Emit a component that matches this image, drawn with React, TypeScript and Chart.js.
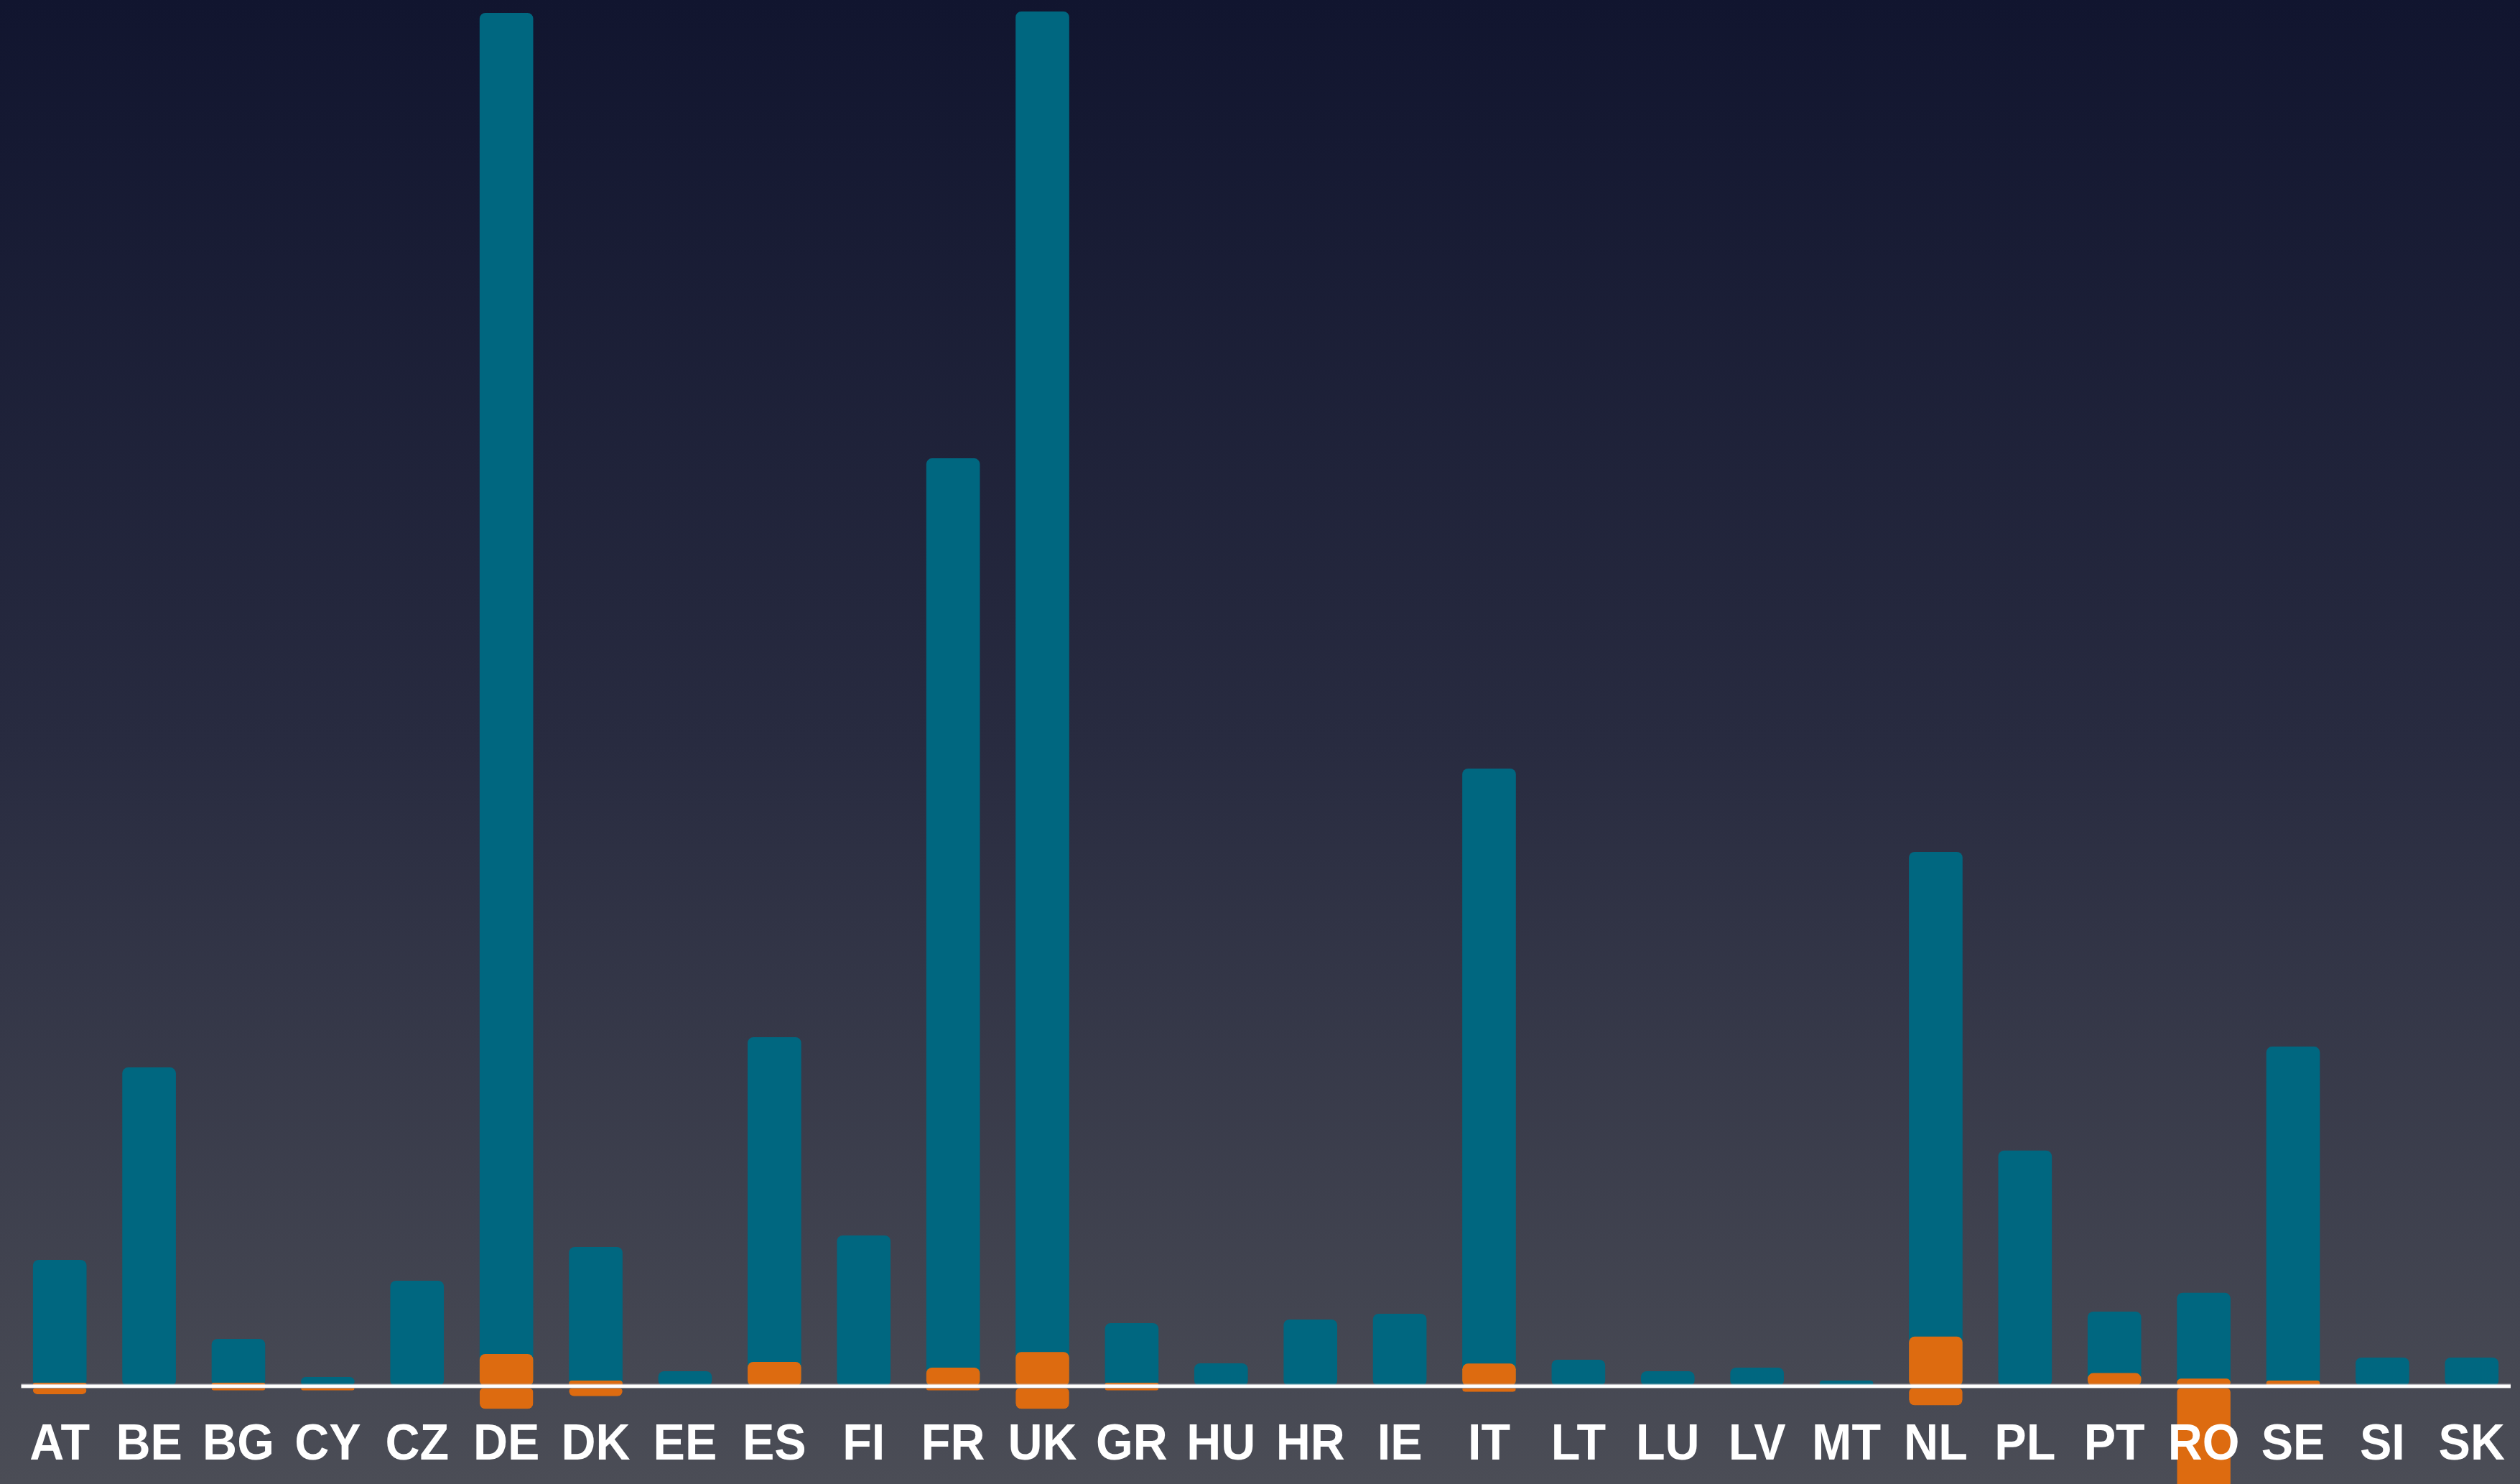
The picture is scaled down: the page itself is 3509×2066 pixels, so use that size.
import React, { useEffect, useRef } from 'react';
import { Chart, registerables } from 'chart.js';

Chart.register(...registerables);

const countries = ['AT', 'BE', 'BG', 'CY', 'CZ', 'DE', 'DK', 'EE', 'ES', 'FI', 'FR', 'UK', 'GR', 'HU', 'HR', 'IE', 'IT', 'LT', 'LU', 'LV', 'MT', 'NL', 'PL', 'PT', 'RO', 'SE', 'SI', 'SK'];

const blueValues = [9.12, 23.0, 3.42, 0.67, 7.62, 99.07, 10.05, 1.09, 25.18, 10.88, 66.94, 99.17, 4.56, 1.66, 4.82, 5.23, 44.56, 1.92, 1.09, 1.35, 0.41, 38.55, 17.0, 5.39, 6.74, 24.5, 2.07, 2.07];

const orangePositive = [0.26, 0, 0.26, 0, 0, 2.33, 0.41, 0.1, 1.76, 0, 1.35, 2.47, 0.26, 0, 0, 0.1, 1.64, 0, 0, 0, 0, 3.58, 0, 0.95, 0.55, 0.41, 0, 0];

const orangeNegative = [-0.57, 0, -0.3, -0.3, 0, -1.64, -0.71, 0, 0, 0, -0.3, -1.64, -0.3, 0, 0, 0, -0.4, 0, 0, 0, 0, -1.38, 0, 0, -8, 0, 0, 0];

const Y_MIN = -7.05;
const Y_MAX = 100;

const BLUE = '#006780';
const ORANGE = '#dd6b10';

const W = 3509;
const H = 2066;

const backgroundPlugin = {
  id: 'bgGradient',
  beforeDraw(chart: any) {
    const { ctx, width, height } = chart;
    const g = ctx.createLinearGradient(0, 0, 0, height);
    g.addColorStop(0, '#11152f');
    g.addColorStop(0.5, '#282b40');
    g.addColorStop(1, '#4b4d56');
    ctx.save();
    ctx.fillStyle = g;
    ctx.fillRect(0, 0, width, height);
    ctx.restore();
  },
};

const overlayPlugin = {
  id: 'zeroLineAndLabels',
  afterDatasetsDraw(chart: any) {
    const { ctx, chartArea } = chart;
    const xs = chart.scales.x;
    const ys = chart.scales.y;
    const y0 = ys.getPixelForValue(0);
    ctx.save();
    // zero line
    ctx.fillStyle = 'rgba(200,200,205,0.6)';
    ctx.fillRect(chartArea.left + 8.5, y0 - 3.5, chartArea.right - chartArea.left - 16.5, 1);
    ctx.fillStyle = '#ffffff';
    ctx.fillRect(chartArea.left + 8.5, y0 - 2.5, chartArea.right - chartArea.left - 16.5, 5);
    // category labels
    ctx.font = 'bold 70px "Liberation Sans", Arial, sans-serif';
    ctx.textAlign = 'center';
    ctx.textBaseline = 'alphabetic';
    ctx.fillStyle = '#ffffff';
    countries.forEach((c, i) => {
      const x = xs.getPixelForValue(i);
      ctx.save();
      ctx.translate(x, y0 + 102);
      ctx.scale(0.95, 1);
      ctx.fillText(c, 0, 0);
      ctx.restore();
    });
    ctx.restore();
  },
};

export default function App() {
  const ref = useRef<HTMLCanvasElement | null>(null);

  useEffect(() => {
    document.body.style.margin = '0';
    document.body.style.overflow = 'hidden';
    const canvas = ref.current;
    if (!canvas) return;
    const chart = new Chart(canvas, {
      type: 'bar',
      data: {
        labels: countries,
        datasets: [
          {
            label: 'Orange (positive)',
            data: orangePositive,
            backgroundColor: ORANGE,
            borderSkipped: false,
            borderRadius: 8,
            grouped: false,
            order: 1,
          },
          {
            label: 'Orange (negative)',
            data: orangeNegative,
            backgroundColor: ORANGE,
            borderColor: 'rgba(0,0,0,0)',
            borderWidth: { top: 3, bottom: 0, left: 0, right: 0 },
            borderSkipped: false,
            borderRadius: 8,
            grouped: false,
            order: 1,
          },
          {
            label: 'Blue',
            data: blueValues,
            backgroundColor: BLUE,
            borderSkipped: false,
            borderRadius: 8,
            grouped: false,
            order: 2,
          },
        ],
      },
      options: {
        responsive: false,
        animation: false,
        devicePixelRatio: 1,
        layout: { padding: { left: 21, right: 5, top: 0, bottom: 0 } },
        datasets: {
          bar: { barPercentage: 0.6, categoryPercentage: 1 },
        },
        plugins: {
          legend: { display: false },
          tooltip: { enabled: false },
          title: { display: false },
        },
        scales: {
          x: { display: false },
          y: { display: false, min: Y_MIN, max: Y_MAX },
        },
      },
      plugins: [backgroundPlugin, overlayPlugin],
    } as any);
    return () => chart.destroy();
  }, []);

  return (
    <div style={{ width: W, height: H }}>
      <canvas ref={ref} width={W} height={H} style={{ display: 'block', width: W, height: H }} />
    </div>
  );
}
